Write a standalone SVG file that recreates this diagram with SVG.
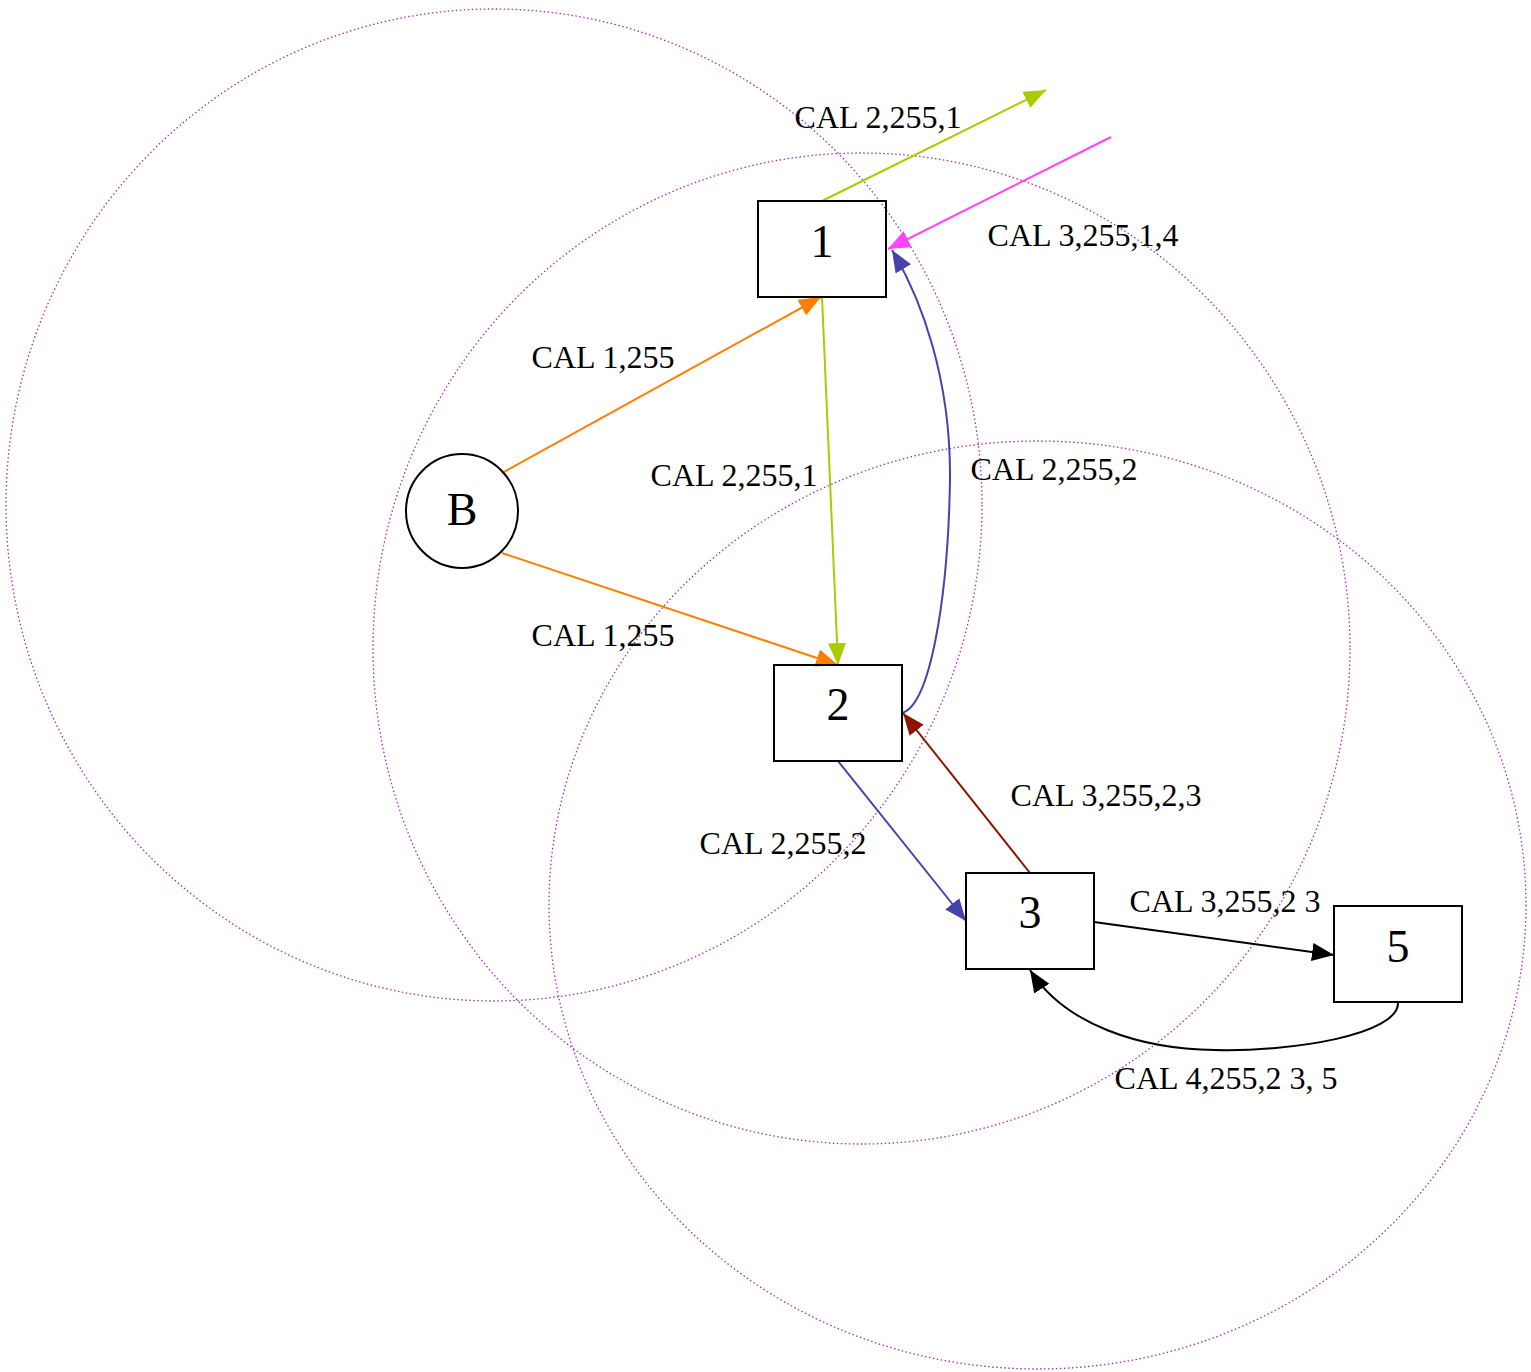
<svg xmlns="http://www.w3.org/2000/svg" width="1531" height="1372" viewBox="0 0 1531 1372">
<style>
.ring{fill:none;stroke:#a030b0;stroke-width:1.3;stroke-dasharray:1.5 2.5}
.node{fill:none;stroke:#000;stroke-width:2}
.nl{font-family:"Liberation Serif","Times New Roman",serif;font-size:46px;fill:#000;text-anchor:middle}
.el{font-family:"Liberation Serif","Times New Roman",serif;font-size:32px;fill:#000;text-anchor:middle}
.e{fill:none;stroke-width:2}
</style>
<defs>
<marker id="aOr" viewBox="0 0 22 18" refX="22" refY="9" markerWidth="22" markerHeight="18" markerUnits="userSpaceOnUse" orient="auto"><path d="M0,0 L22,9 L0,18 z" fill="#ff7f00"/></marker>
<marker id="aGr" viewBox="0 0 22 18" refX="22" refY="9" markerWidth="22" markerHeight="18" markerUnits="userSpaceOnUse" orient="auto"><path d="M0,0 L22,9 L0,18 z" fill="#a8cc00"/></marker>
<marker id="aMg" viewBox="0 0 22 18" refX="22" refY="9" markerWidth="22" markerHeight="18" markerUnits="userSpaceOnUse" orient="auto"><path d="M0,0 L22,9 L0,18 z" fill="#ff44ff"/></marker>
<marker id="aBl" viewBox="0 0 22 18" refX="22" refY="9" markerWidth="22" markerHeight="18" markerUnits="userSpaceOnUse" orient="auto"><path d="M0,0 L22,9 L0,18 z" fill="#4444aa"/></marker>
<marker id="aRd" viewBox="0 0 22 18" refX="22" refY="9" markerWidth="22" markerHeight="18" markerUnits="userSpaceOnUse" orient="auto"><path d="M0,0 L22,9 L0,18 z" fill="#8b1500"/></marker>
<marker id="aBk" viewBox="0 0 22 18" refX="22" refY="9" markerWidth="22" markerHeight="18" markerUnits="userSpaceOnUse" orient="auto"><path d="M0,0 L22,9 L0,18 z" fill="#000"/></marker>
</defs>
<rect width="1531" height="1372" fill="#fff"/>
<g id="rings">
<ellipse class="ring" cx="494" cy="505" rx="488" ry="496"/>
<ellipse class="ring" cx="861.5" cy="648.5" rx="488.5" ry="495.5"/>
<ellipse class="ring" cx="1037.5" cy="905" rx="488.5" ry="464"/>
</g>
<g id="connectors">
<path class="e" stroke="#ff7f00" d="M502,473 L821,297" marker-end="url(#aOr)"/>
<path class="e" stroke="#ff7f00" d="M502,553 L838,665" marker-end="url(#aOr)"/>
<path class="e" stroke="#a8cc00" d="M822,297 L838,665" marker-end="url(#aGr)"/>
<path class="e" stroke="#a8cc00" d="M822,201 L1046,90" marker-end="url(#aGr)"/>
<path class="e" stroke="#ff44ff" d="M1111,137 L888,249" marker-end="url(#aMg)"/>
<path class="e" stroke="#4444aa" d="M902,713 C930,705 948,600 950,480 C951,380 922,300 892,250" marker-end="url(#aBl)"/>
<path class="e" stroke="#4444aa" d="M838,761 L966,921" marker-end="url(#aBl)"/>
<path class="e" stroke="#8b1500" d="M1030,873 L903,713" marker-end="url(#aRd)"/>
<path class="e" stroke="#000" d="M1094,922 L1334,955" marker-end="url(#aBk)"/>
<path class="e" stroke="#000" d="M1398,1002 C1400,1035 1290,1052 1215,1050 C1140,1049 1065,1025 1030,970" marker-end="url(#aBk)"/>
<text class="el" x="878" y="128">CAL 2,255,1</text>
<text class="el" x="1083" y="246">CAL 3,255,1,4</text>
<text class="el" x="603" y="368">CAL 1,255</text>
<text class="el" x="734" y="486">CAL 2,255,1</text>
<text class="el" x="1054" y="480">CAL 2,255,2</text>
<text class="el" x="603" y="646">CAL 1,255</text>
<text class="el" x="1106" y="806">CAL 3,255,2,3</text>
<text class="el" x="783" y="854">CAL 2,255,2</text>
<text class="el" x="1225" y="912">CAL 3,255,2 3</text>
<text class="el" x="1226" y="1089">CAL 4,255,2 3, 5</text>
</g>
<g id="node-B"><ellipse class="node" cx="462" cy="511" rx="56" ry="57"/><text class="nl" x="462" y="525">B</text></g>
<g id="node-1"><rect class="node" x="758" y="201" width="128" height="96"/><text class="nl" x="822" y="257">1</text></g>
<g id="node-2"><rect class="node" x="774" y="665" width="128" height="96"/><text class="nl" x="838" y="720">2</text></g>
<g id="node-3"><rect class="node" x="966" y="873" width="128" height="96"/><text class="nl" x="1030" y="928">3</text></g>
<g id="node-5"><rect class="node" x="1334" y="906" width="128" height="96"/><text class="nl" x="1398" y="962">5</text></g>
</svg>
